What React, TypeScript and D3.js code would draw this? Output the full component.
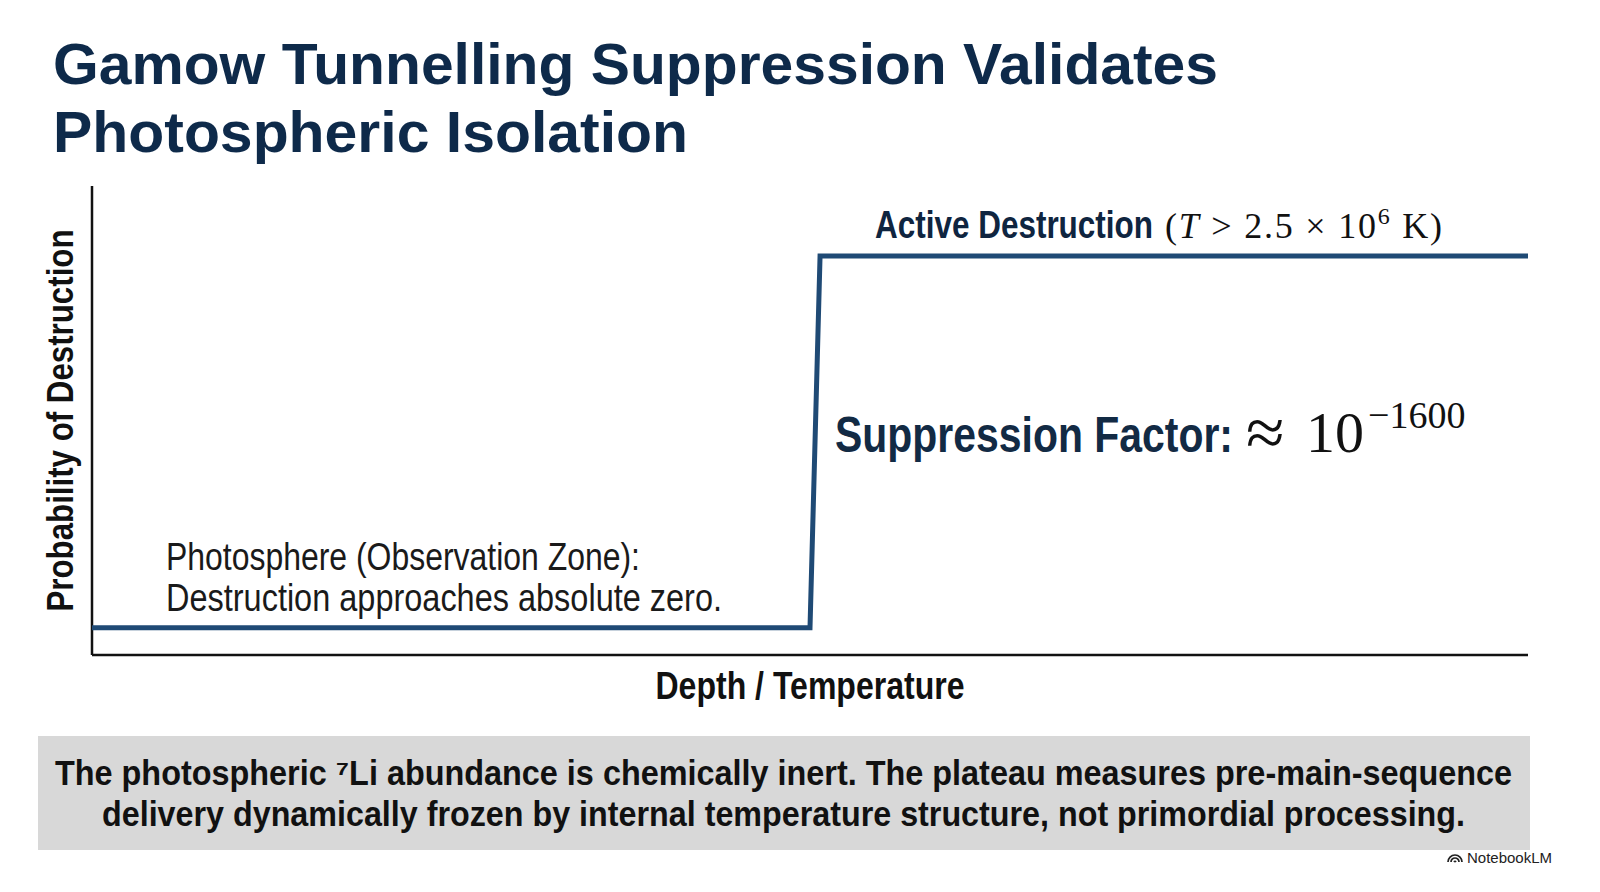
import React from "react";
import * as d3 from "d3";

// step curve: probability of destruction vs depth / temperature (unitless)
const depth = [0, 0.5, 0.507, 1];
const probability = [0.058, 0.058, 0.851, 0.851];

const titleLines = ["Gamow Tunnelling Suppression Validates", "Photospheric Isolation"];
const photosphereLines = ["Photosphere (Observation Zone):", "Destruction approaches absolute zero."];
const footerLines = [
  "The photospheric ⁷Li abundance is chemically inert. The plateau measures pre-main-sequence",
  "delivery dynamically frozen by internal temperature structure, not primordial processing.",
];

const W = 1600;
const H = 892;
// condensed look: Arial-metric font squeezed with textLength
const NARROW = "'Liberation Sans', Arial, sans-serif";
const SANS = "'Liberation Sans', Arial, sans-serif";
const SERIF = "'Liberation Serif', 'DejaVu Serif', serif";

const App: React.FC = () => {
  const x = d3.scaleLinear().domain([0, 1]).range([92, 1528]);
  const y = d3.scaleLinear().domain([0, 1]).range([655, 186]);

  const pts = depth.map((d, i) => [d, probability[i]] as [number, number]);
  const line = d3
    .line<[number, number]>()
    .x((d) => x(d[0]))
    .y((d) => y(d[1]));

  return (
    <svg
      width={W}
      height={H}
      style={{ position: "absolute", left: 0, top: 0, background: "#fff" }}
    >
      {/* title */}
      <text fill="#0e2a4a" fontFamily={SANS} fontWeight="bold" fontSize={58}>
        <tspan x={53} y={84} textLength={1165} lengthAdjust="spacingAndGlyphs">
          {titleLines[0]}
        </tspan>
        <tspan x={53} y={152} textLength={635} lengthAdjust="spacingAndGlyphs">
          {titleLines[1]}
        </tspan>
      </text>

      {/* axes */}
      <line x1={x(0)} x2={x(0)} y1={y(1)} y2={y(0)} stroke="#111" strokeWidth={2.5} />
      <line x1={x(0)} x2={x(1)} y1={y(0)} y2={y(0)} stroke="#111" strokeWidth={2.5} />

      {/* step curve */}
      <path d={line(pts) || ""} fill="none" stroke="#1f4a75" strokeWidth={5} />

      {/* y label */}
      <text
        transform={`translate(73,${y(0.5)}) rotate(-90)`}
        textAnchor="middle"
        fill="#111"
        fontFamily={NARROW}
        fontWeight="bold"
        fontSize={37}
        textLength={382}
        lengthAdjust="spacingAndGlyphs"
      >
        Probability of Destruction
      </text>

      {/* x label */}
      <text
        x={(x(0) + x(1)) / 2}
        y={699}
        textAnchor="middle"
        fill="#111"
        fontFamily={NARROW}
        fontWeight="bold"
        fontSize={38}
        textLength={309}
        lengthAdjust="spacingAndGlyphs"
      >
        Depth / Temperature
      </text>

      {/* active destruction label */}
      <text x={875} y={238} fill="#0f2540" fontFamily={NARROW} fontWeight="bold" fontSize={38} textLength={278} lengthAdjust="spacingAndGlyphs">
        Active Destruction
      </text>
      <text x={1165} y={238} fill="#111" fontFamily={SERIF} fontSize={36} textLength={277} lengthAdjust="spacing">
        <tspan>(</tspan>
        <tspan fontStyle="italic">T</tspan>
        <tspan> &gt; 2.5 × 10</tspan>
        <tspan dy={-14} fontSize={24}>6</tspan>
        <tspan dy={14}> K)</tspan>
      </text>

      {/* suppression factor */}
      <text x={835} y={452} fill="#122a44" fontFamily={NARROW} fontWeight="bold" fontSize={50} textLength={398} lengthAdjust="spacingAndGlyphs">
        Suppression Factor:
      </text>
      <text x={1246} y={452} fill="#111" fontFamily={SERIF} fontSize={58}>
        <tspan fontSize={70} dy={4}>≈</tspan>
        <tspan x={1306} dy={-4}>10</tspan>
        <tspan x={1368} dy={-24} fontSize={38}>−1600</tspan>
      </text>

      {/* photosphere note */}
      <text fill="#1a1a1a" fontFamily={NARROW} fontSize={38}>
        <tspan x={166} y={570} textLength={474} lengthAdjust="spacingAndGlyphs">
          {photosphereLines[0]}
        </tspan>
        <tspan x={166} y={611} textLength={556} lengthAdjust="spacingAndGlyphs">
          {photosphereLines[1]}
        </tspan>
      </text>

      {/* footer box */}
      <rect x={38} y={736} width={1492} height={114} fill="#d8d8d8" />
      <text fill="#111" fontFamily={NARROW} fontWeight="bold" fontSize={35}>
        <tspan x={55} y={785} textLength={1457} lengthAdjust="spacingAndGlyphs">
          {footerLines[0]}
        </tspan>
        <tspan x={102} y={826} textLength={1363} lengthAdjust="spacingAndGlyphs">
          {footerLines[1]}
        </tspan>
      </text>

      {/* watermark */}
      <g transform="translate(1455,862)" fill="none" stroke="#222" strokeWidth={1.7}>
        <path d="M-7,0 A7,7 0 0 1 7,0" />
        <path d="M-4,0 A4,4 0 0 1 4,0" />
        <path d="M-1,0 A1.2,1.2 0 0 1 1,0" />
      </g>
      <text x={1467} y={863} fill="#222" fontFamily={SANS} fontSize={15}>
        NotebookLM
      </text>
    </svg>
  );
};

export default App;
